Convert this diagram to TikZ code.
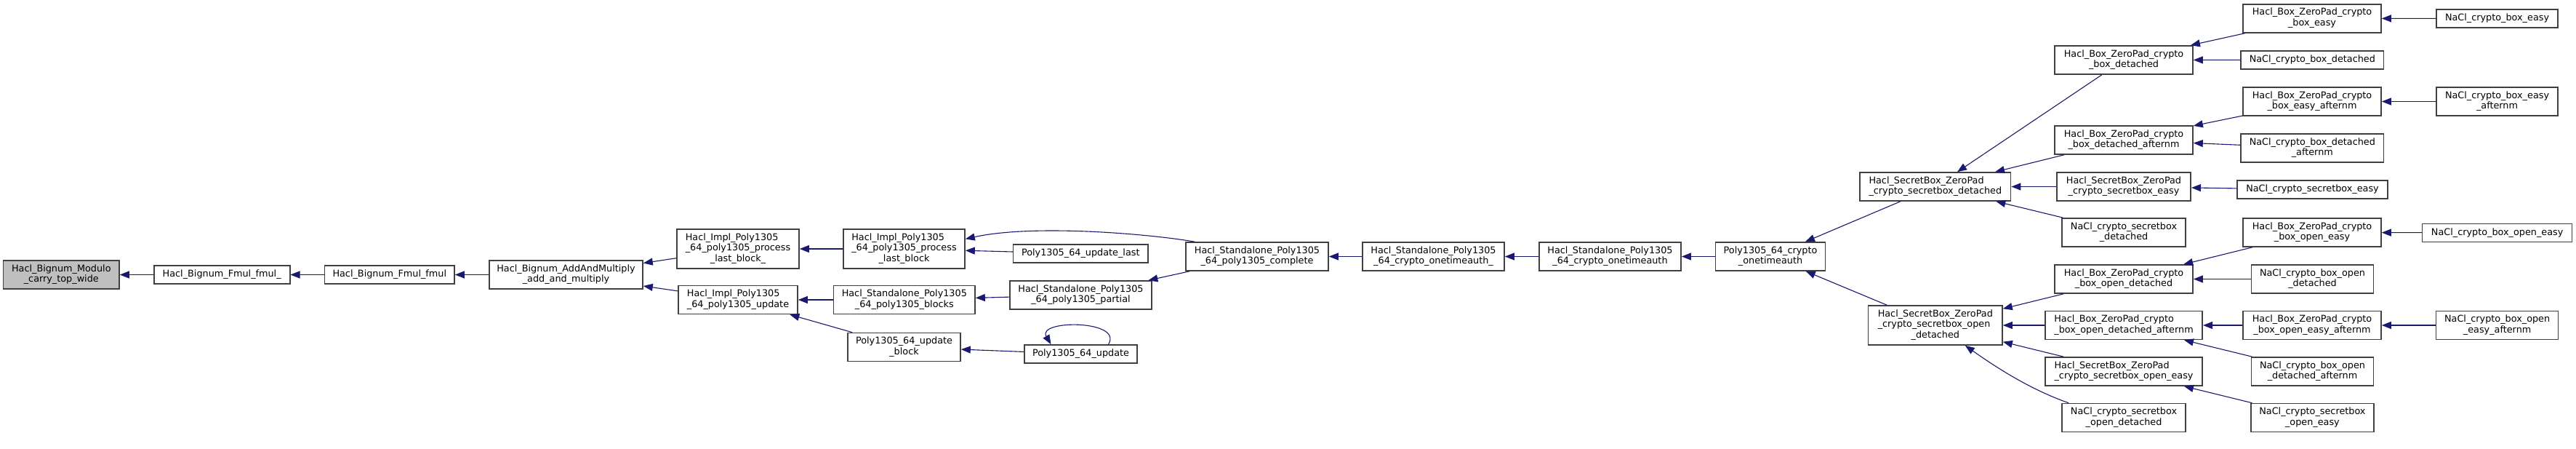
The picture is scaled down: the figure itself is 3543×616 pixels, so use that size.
\documentclass[tikz,border=0pt]{standalone}
\usepackage{fontspec}
\setmainfont{DejaVu Sans}
\usepackage{xcolor}
\usepackage{tikz}
\usetikzlibrary{arrows.meta, calc}

\definecolor{edgeblue}{HTML}{191970}
\definecolor{boxline}{HTML}{404040}
\definecolor{focusgray}{HTML}{BFBFBF}
\newcommand{\fnlines}[1]{\begin{tabular}{@{}l@{}}#1\end{tabular}}
\newcommand{\ctr}[1]{\multicolumn{1}{@{}c@{}}{#1}}

\begin{document}
\begin{tikzpicture}[x=0.5pt, y=-0.5pt, >={Triangle[length=6.5pt, width=5pt]},
  fn/.style={draw=boxline, fill=white, line width=0.8pt, inner sep=0pt, minimum height=19.5pt, font=\fontsize{6.4pt}{7.25pt}\selectfont},
  one/.style={minimum height=12.5pt},
  three/.style={minimum height=27pt},
  call/.style={->, color=edgeblue, line width=0.55pt}]
  \useasboundingbox (0,0) rectangle (3543,616);
  % bignum chain
  \node[fn, fill=focusgray, minimum width=79.7pt] (mod) at (84.3, 377.5) {\fnlines{Hacl\_Bignum\_Modulo\\\ctr{\_carry\_top\_wide}}};
  \node[fn, one, minimum width=93.5pt] (fmulu) at (305.2, 377.5) {Hacl\_Bignum\_Fmul\_fmul\_};
  \node[fn, one, minimum width=89.2pt] (fmul) at (535.8, 377.5) {Hacl\_Bignum\_Fmul\_fmul};
  \node[fn, minimum width=105.5pt] (addmul) at (778.5, 377.5) {\fnlines{Hacl\_Bignum\_AddAndMultiply\\\ctr{\_add\_and\_multiply}}};
  % poly1305
  \node[fn, three, minimum width=84pt] (plbu) at (1015, 342) {\fnlines{Hacl\_Impl\_Poly1305\\\_64\_poly1305\_process\\\ctr{\_last\_block\_}}};
  \node[fn, minimum width=82pt] (pupd) at (1015, 412) {\fnlines{Hacl\_Impl\_Poly1305\\\ctr{\_64\_poly1305\_update}}};
  \node[fn, three, minimum width=83.5pt] (plb) at (1243.5, 342) {\fnlines{Hacl\_Impl\_Poly1305\\\_64\_poly1305\_process\\\ctr{\_last\_block}}};
  \node[fn, minimum width=97.2pt] (blocks) at (1243.8, 412) {\fnlines{Hacl\_Standalone\_Poly1305\\\ctr{\_64\_poly1305\_blocks}}};
  \node[fn, minimum width=77.5pt] (updblock) at (1243.5, 477) {\fnlines{Poly1305\_64\_update\\\ctr{\_block}}};
  \node[fn, one, minimum width=92.7pt] (updlast) at (1486.3, 348.5) {Poly1305\_64\_update\_last};
  \node[fn, minimum width=97.5pt] (partial) at (1486.5, 405.5) {\fnlines{Hacl\_Standalone\_Poly1305\\\ctr{\_64\_poly1305\_partial}}};
  \node[fn, one, minimum width=77.5pt] (upd) at (1486.5, 486.5) {Poly1305\_64\_update};
  \node[fn, minimum width=98pt] (complete) at (1729, 352.5) {\fnlines{Hacl\_Standalone\_Poly1305\\\ctr{\_64\_poly1305\_complete}}};
  \node[fn, minimum width=97.5pt] (otau) at (1971.5, 352.5) {\fnlines{Hacl\_Standalone\_Poly1305\\\ctr{\_64\_crypto\_onetimeauth\_}}};
  \node[fn, minimum width=97.5pt] (ota) at (2214.5, 352.5) {\fnlines{Hacl\_Standalone\_Poly1305\\\ctr{\_64\_crypto\_onetimeauth}}};
  \node[fn, minimum width=75.5pt] (pota) at (2435, 352.5) {\fnlines{Poly1305\_64\_crypto\\\ctr{\_onetimeauth}}};
  % secretbox
  \node[fn, minimum width=103.7pt] (sbdet) at (2661.8, 256.5) {\fnlines{Hacl\_SecretBox\_ZeroPad\\\ctr{\_crypto\_secretbox\_detached}}};
  \node[fn, three, minimum width=92.2pt] (sbodet) at (2661.8, 447) {\fnlines{Hacl\_SecretBox\_ZeroPad\\\_crypto\_secretbox\_open\\\ctr{\_detached}}};
  \node[fn, minimum width=95pt] (boxdet) at (2921, 82.5) {\fnlines{Hacl\_Box\_ZeroPad\_crypto\\\ctr{\_box\_detached}}};
  \node[fn, minimum width=95pt] (boxdetaft) at (2921, 192.5) {\fnlines{Hacl\_Box\_ZeroPad\_crypto\\\ctr{\_box\_detached\_afternm}}};
  \node[fn, minimum width=92.2pt] (sbeasy) at (2921, 256.5) {\fnlines{Hacl\_SecretBox\_ZeroPad\\\ctr{\_crypto\_secretbox\_easy}}};
  \node[fn, minimum width=85pt] (naclsbdet) at (2921, 319.5) {\fnlines{NaCl\_crypto\_secretbox\\\ctr{\_detached}}};
  \node[fn, minimum width=95pt] (boxodet) at (2921, 383.5) {\fnlines{Hacl\_Box\_ZeroPad\_crypto\\\ctr{\_box\_open\_detached}}};
  \node[fn, minimum width=108.2pt] (boxodetaft) at (2921, 447) {\fnlines{Hacl\_Box\_ZeroPad\_crypto\\\ctr{\_box\_open\_detached\_afternm}}};
  \node[fn, minimum width=108pt] (sboeasy) at (2921, 510.5) {\fnlines{Hacl\_SecretBox\_ZeroPad\\\ctr{\_crypto\_secretbox\_open\_easy}}};
  \node[fn, minimum width=85pt] (naclsbodet) at (2921, 574) {\fnlines{NaCl\_crypto\_secretbox\\\ctr{\_open\_detached}}};
  % box
  \node[fn, minimum width=95pt] (boxeasy) at (3180, 25.3) {\fnlines{Hacl\_Box\_ZeroPad\_crypto\\\ctr{\_box\_easy}}};
  \node[fn, one, minimum width=98.3pt] (naclboxdet) at (3180.3, 82.3) {NaCl\_crypto\_box\_detached};
  \node[fn, minimum width=95pt] (boxeasyaft) at (3180, 139.5) {\fnlines{Hacl\_Box\_ZeroPad\_crypto\\\ctr{\_box\_easy\_afternm}}};
  \node[fn, minimum width=98.3pt] (naclboxdetaft) at (3180.3, 203.5) {\fnlines{NaCl\_crypto\_box\_detached\\\ctr{\_afternm}}};
  \node[fn, one, minimum width=103.5pt] (naclsbeasy) at (3180.5, 260.5) {NaCl\_crypto\_secretbox\_easy};
  \node[fn, minimum width=95pt] (boxoeasy) at (3180, 319.5) {\fnlines{Hacl\_Box\_ZeroPad\_crypto\\\ctr{\_box\_open\_easy}}};
  \node[fn, minimum width=84pt] (naclboxodet) at (3180.5, 383.5) {\fnlines{NaCl\_crypto\_box\_open\\\ctr{\_detached}}};
  \node[fn, minimum width=95pt] (boxoeasyaft) at (3180, 447) {\fnlines{Hacl\_Box\_ZeroPad\_crypto\\\ctr{\_box\_open\_easy\_afternm}}};
  \node[fn, minimum width=84pt] (naclboxodetaft) at (3180.5, 510.5) {\fnlines{NaCl\_crypto\_box\_open\\\ctr{\_detached\_afternm}}};
  \node[fn, minimum width=84.7pt] (naclsboeasy) at (3180.4, 574) {\fnlines{NaCl\_crypto\_secretbox\\\ctr{\_open\_easy}}};
  \node[fn, one, minimum width=83.5pt] (naclboxeasy) at (3434.5, 25.5) {NaCl\_crypto\_box\_easy};
  \node[fn, minimum width=83.5pt] (naclboxeasyaft) at (3434.5, 139.5) {\fnlines{NaCl\_crypto\_box\_easy\\\ctr{\_afternm}}};
  \node[fn, one, minimum width=103pt] (naclboxoeasy) at (3434.6, 319.8) {NaCl\_crypto\_box\_open\_easy};
  \node[fn, minimum width=84pt] (naclboxoeasyaft) at (3434.6, 447) {\fnlines{NaCl\_crypto\_box\_open\\\ctr{\_easy\_afternm}}};
  % calls
  \foreach \a/\b in {fmulu/mod, fmul/fmulu, addmul/fmul, plbu/addmul, pupd/addmul, plb/plbu,
      blocks/pupd, updblock/pupd, updlast/plb, partial/blocks, complete/partial, upd/updblock,
      otau/complete, ota/otau, pota/ota, sbdet/pota, sbodet/pota,
      boxdet/sbdet, boxdetaft/sbdet, sbeasy/sbdet, naclsbdet/sbdet,
      boxodet/sbodet, boxodetaft/sbodet, sboeasy/sbodet,
      boxeasy/boxdet, naclboxdet/boxdet, naclboxeasy/boxeasy,
      boxeasyaft/boxdetaft, naclboxdetaft/boxdetaft, naclboxeasyaft/boxeasyaft,
      naclsbeasy/sbeasy, boxoeasy/boxodet, naclboxodet/boxodet, naclboxoeasy/boxoeasy,
      boxoeasyaft/boxodetaft, naclboxodetaft/boxodetaft, naclboxoeasyaft/boxoeasyaft,
      naclsboeasy/sboeasy}{\draw[call] (\a) -- (\b);}
  \draw[call] ($(complete.north west)+(13,0)$) .. controls +(-64,-11) and +(93,-20.5) .. ($(plb.east)+(0,-13.6)$);
  \draw[call] ($(naclsbodet.north west)+(10,0)$) .. controls +(-56,-19.5) and +(38,26.6) .. ($(sbodet.south east)+(-52,0)$);
  \draw[call] ($(upd.north)+(38,0)$) .. controls +(21,-34) and +(-20,-34) .. ($(upd.north)+(-41,0)$);
\end{tikzpicture}
\end{document}
